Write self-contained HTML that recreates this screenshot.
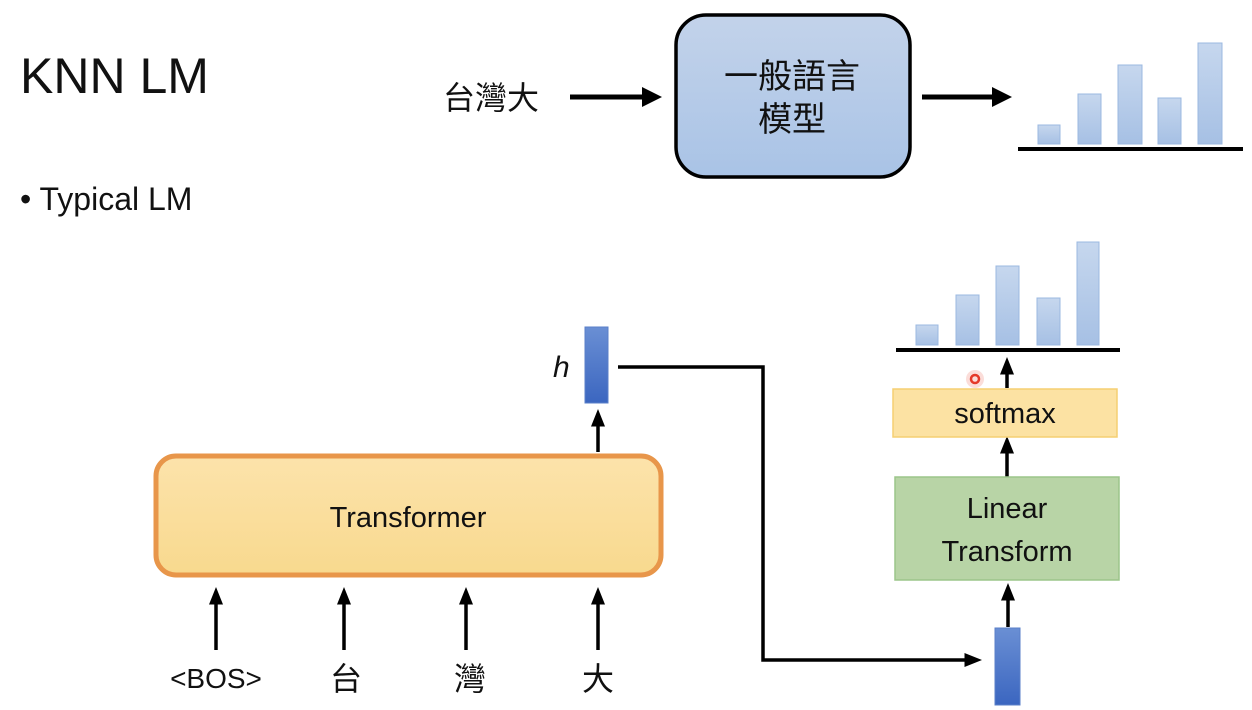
<!DOCTYPE html>
<html><head><meta charset="utf-8"><style>
html,body{margin:0;padding:0;background:#fff;}
svg{display:block;}
text{font-family:"Liberation Sans","Noto Sans CJK TC",sans-serif;fill:#111;}
</style></head><body>
<svg width="1252" height="710" viewBox="0 0 1252 710" xmlns="http://www.w3.org/2000/svg">
<defs>
<linearGradient id="bb" x1="0" y1="0" x2="0" y2="1"><stop offset="0" stop-color="#c3d3ea"/><stop offset="1" stop-color="#a9c3e6"/></linearGradient>
<linearGradient id="bar" x1="0" y1="0" x2="0" y2="1"><stop offset="0" stop-color="#c6d7ee"/><stop offset="1" stop-color="#a6c0e4"/></linearGradient>
<linearGradient id="vec" x1="0" y1="0" x2="0" y2="1"><stop offset="0" stop-color="#6a8fd4"/><stop offset="1" stop-color="#3b66c0"/></linearGradient>
<linearGradient id="tr" x1="0" y1="0" x2="0" y2="1"><stop offset="0" stop-color="#fce3ab"/><stop offset="1" stop-color="#f8d98e"/></linearGradient>
<marker id="ah" markerWidth="4" markerHeight="4" refX="2.2" refY="2" orient="auto" markerUnits="strokeWidth"><path d="M0,0 L4,2 L0,4 z" fill="#000"/></marker>
<marker id="as" markerWidth="5" markerHeight="4" refX="3" refY="2" orient="auto" markerUnits="strokeWidth"><path d="M0,0 L5,2 L0,4 z" fill="#000"/></marker>
</defs>

<text x="20" y="93" font-size="50">KNN LM</text>
<text x="20" y="210" font-size="32">• Typical LM</text>

<text x="443" y="109" font-size="32">台灣大</text>
<line x1="570" y1="97" x2="653" y2="97" stroke="#000" stroke-width="5" marker-end="url(#ah)"/>
<rect x="676" y="15" width="234" height="162" rx="30" fill="url(#bb)" stroke="#000" stroke-width="3.5"/>
<text x="792" y="88" font-size="34" text-anchor="middle">一般語言</text>
<text x="792" y="131" font-size="34" text-anchor="middle">模型</text>
<line x1="922" y1="97" x2="1003" y2="97" stroke="#000" stroke-width="5" marker-end="url(#ah)"/>
<g fill="url(#bar)" stroke="#9bb8e0" stroke-width="1">
<rect x="1038" y="125" width="22" height="19"/>
<rect x="1078" y="94" width="23" height="50"/>
<rect x="1118" y="65" width="24" height="79"/>
<rect x="1158" y="98" width="23" height="46"/>
<rect x="1198" y="43" width="24" height="101"/>
</g>
<line x1="1018" y1="149" x2="1243" y2="149" stroke="#000" stroke-width="4"/>

<!-- Transformer -->
<rect x="156" y="456" width="505" height="119" rx="20" fill="url(#tr)" stroke="#e8964a" stroke-width="5"/>
<text x="408" y="527" font-size="29" text-anchor="middle">Transformer</text>
<g stroke="#000" stroke-width="3.5">
<line x1="216" y1="650" x2="216" y2="594" marker-end="url(#as)"/>
<line x1="344" y1="650" x2="344" y2="594" marker-end="url(#as)"/>
<line x1="466" y1="650" x2="466" y2="594" marker-end="url(#as)"/>
<line x1="598" y1="650" x2="598" y2="594" marker-end="url(#as)"/>
<line x1="598" y1="452" x2="598" y2="416" marker-end="url(#as)"/>
</g>
<text x="216" y="688" font-size="28" text-anchor="middle">&lt;BOS&gt;</text>
<text x="346" y="690" font-size="32" text-anchor="middle">台</text>
<text x="470" y="690" font-size="32" text-anchor="middle">灣</text>
<text x="598" y="690" font-size="32" text-anchor="middle">大</text>

<rect x="585" y="327" width="23" height="76" fill="url(#vec)" stroke="#5a7fc8" stroke-width="1"/>
<text x="553" y="377" font-size="30" font-style="italic" font-family="Liberation Serif, serif">h</text>
<polyline points="618,367 763,367 763,660 975,660" fill="none" stroke="#000" stroke-width="3.5" marker-end="url(#as)"/>

<!-- right column -->
<rect x="995" y="628" width="25" height="77" fill="url(#vec)" stroke="#5a7fc8" stroke-width="1"/>
<g stroke="#000" stroke-width="3.5">
<line x1="1008" y1="627" x2="1008" y2="590" marker-end="url(#as)"/>
<line x1="1007" y1="477" x2="1007" y2="443" marker-end="url(#as)"/>
<line x1="1007" y1="388" x2="1007" y2="364" marker-end="url(#as)"/>
</g>
<rect x="895" y="477" width="224" height="103" fill="#b8d4a6" stroke="#9cc58a" stroke-width="1.5"/>
<text x="1007" y="518" font-size="29" text-anchor="middle">Linear</text>
<text x="1007" y="561" font-size="29" text-anchor="middle">Transform</text>
<rect x="893" y="389" width="224" height="48" fill="#fce2a3" stroke="#f5cf72" stroke-width="1.5"/>
<text x="1005" y="423" font-size="29" text-anchor="middle">softmax</text>
<circle cx="975" cy="379" r="9" fill="#f9c7bf" opacity="0.6"/>
<circle cx="975" cy="379" r="4" fill="none" stroke="#e53a2a" stroke-width="2.5"/>
<g fill="url(#bar)" stroke="#9bb8e0" stroke-width="1">
<rect x="916" y="325" width="22" height="20"/>
<rect x="956" y="295" width="23" height="50"/>
<rect x="996" y="266" width="23" height="79"/>
<rect x="1037" y="298" width="23" height="47"/>
<rect x="1077" y="242" width="22" height="103"/>
</g>
<line x1="896" y1="350" x2="1120" y2="350" stroke="#000" stroke-width="4"/>
</svg>
</body></html>
